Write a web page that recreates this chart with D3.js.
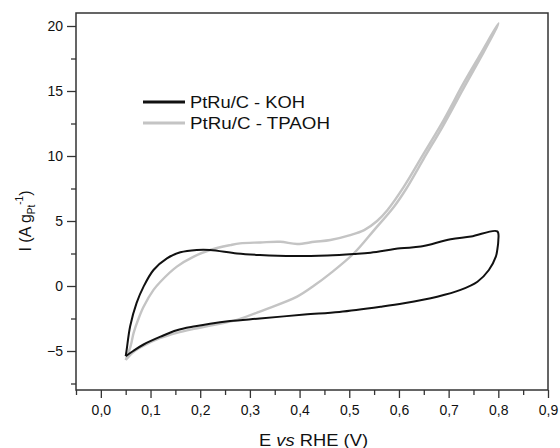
<!DOCTYPE html>
<html>
<head>
<meta charset="utf-8">
<script src="https://cdn.jsdelivr.net/npm/d3@7"></script>
<style>
  body { margin: 0; background: #fff; }
  text { font-family: "Liberation Sans", Arial, sans-serif; fill: #111; }
</style>
</head>
<body>
<div id="chart"></div>
<script>
var width = 560;
var height = 448;

// PtRu/C - KOH, one full cycle (forward then back)
var kohE = [0.05, 0.052, 0.059, 0.072, 0.086, 0.106, 0.133, 0.16, 0.193, 0.22, 0.274, 0.32, 0.388, 0.456, 0.509, 0.543, 0.603, 0.644, 0.704, 0.745, 0.798,
            0.80, 0.798, 0.795, 0.781, 0.758, 0.724, 0.677, 0.61, 0.563, 0.48, 0.41, 0.32, 0.26, 0.22, 0.19, 0.153, 0.12, 0.086, 0.065, 0.05];
var kohI = [-5.4, -4.9, -3.1, -1.3, -0.05, 1.23, 2.13, 2.59, 2.77, 2.77, 2.5, 2.38, 2.3, 2.35, 2.46, 2.56, 2.9, 3.03, 3.6, 3.8, 4.2,
            3.5, 2.8, 2.26, 1.23, 0.33, -0.3, -0.82, -1.33, -1.6, -2.0, -2.2, -2.5, -2.7, -2.9, -3.1, -3.4, -3.9, -4.5, -5.0, -5.4];

// PtRu/C - TPAOH
var tpaE = [0.05, 0.06, 0.066, 0.075, 0.086, 0.106, 0.12, 0.153, 0.187, 0.22, 0.261, 0.28, 0.321, 0.361, 0.395, 0.43, 0.462, 0.50, 0.53, 0.556, 0.577, 0.61, 0.65, 0.69, 0.73, 0.765, 0.80,
            0.797, 0.765, 0.73, 0.69, 0.65, 0.615, 0.59, 0.55, 0.509, 0.462, 0.43, 0.395, 0.328, 0.274, 0.22, 0.187, 0.153, 0.12, 0.086, 0.065, 0.05];
var tpaI = [-5.7, -4.6, -3.6, -2.6, -1.6, -0.3, 0.33, 1.49, 2.26, 2.77, 3.15, 3.28, 3.35, 3.4, 3.23, 3.4, 3.54, 3.9, 4.3, 5.0, 5.85, 7.64, 10.2, 12.77, 15.6, 17.9, 20.2,
            19.9, 17.6, 15.2, 12.4, 9.8, 7.5, 6.1, 4.3, 2.5, 0.97, 0.05, -0.82, -1.85, -2.6, -3.05, -3.3, -3.6, -4.0, -4.6, -5.1, -5.7];

var xMajor = [0, 0.1, 0.2, 0.3, 0.4, 0.5, 0.6, 0.7, 0.8, 0.9];
var xMinor = [-0.05, 0.05, 0.15, 0.25, 0.35, 0.45, 0.55, 0.65, 0.75, 0.85];
var yMajor = [-5, 0, 5, 10, 15, 20];
var yMinor = [-7.5, -2.5, 2.5, 7.5, 12.5, 17.5];

var seriesNames = ["PtRu/C - KOH", "PtRu/C - TPAOH"];
var seriesColors = ["#111111", "#c4c4c4"];

var svg = d3.select("#chart").append("svg")
    .attr("width", width)
    .attr("height", height);

var x = d3.scaleLinear().domain([-0.05, 0.9]).range([76, 548]);
var y = d3.scaleLinear().domain([-8, 21]).range([390, 13]);

var fmt = function (d) { return d3.format(".1f")(d).replace(".", ","); };

// axes
svg.append("g").attr("transform", "translate(0,390)")
    .call(d3.axisBottom(x).tickValues(xMajor).tickSize(8).tickSizeOuter(0).tickPadding(7).tickFormat(fmt));
svg.append("g").attr("transform", "translate(0,390)")
    .call(d3.axisBottom(x).tickValues(xMinor).tickSize(5).tickSizeOuter(0).tickFormat(""));
svg.append("g").attr("transform", "translate(76,0)")
    .call(d3.axisLeft(y).tickValues(yMajor).tickSize(9).tickSizeOuter(0).tickPadding(4));
svg.append("g").attr("transform", "translate(76,0)")
    .call(d3.axisLeft(y).tickValues(yMinor).tickSize(5).tickSizeOuter(0).tickFormat(""));

svg.selectAll(".domain").remove();
svg.selectAll(".tick line").attr("stroke", "#333").attr("stroke-width", 1.3);
svg.selectAll(".tick text").style("font-size", "14px").style("font-family", "Liberation Sans, Arial, sans-serif").attr("fill", "#111");

// frame
svg.append("rect")
    .attr("x", x(-0.05)).attr("y", y(21))
    .attr("width", x(0.9) - x(-0.05)).attr("height", y(-8) - y(21))
    .attr("fill", "none").attr("stroke", "#333").attr("stroke-width", 1.5);

// curves
var line = d3.line()
    .x(function (d) { return x(d[0]); })
    .y(function (d) { return y(d[1]); })
    .curve(d3.curveCatmullRom.alpha(0.5));

var tpa = tpaE.map(function (e, i) { return [e, tpaI[i]]; });
var koh = kohE.map(function (e, i) { return [e, kohI[i]]; });

svg.append("path").datum(tpa).attr("d", line)
    .attr("fill", "none").attr("stroke", seriesColors[1]).attr("stroke-width", 2.4);
svg.append("path").datum(koh).attr("d", line)
    .attr("fill", "none").attr("stroke", seriesColors[0]).attr("stroke-width", 2);

// legend
var legend = svg.append("g");
var legendWidths = [115, 140];
seriesNames.forEach(function (name, i) {
  var ly = 102 + i * 21;
  legend.append("line").attr("x1", 143).attr("x2", 185).attr("y1", ly).attr("y2", ly)
      .attr("stroke", seriesColors[i]).attr("stroke-width", 3);
  legend.append("text").attr("x", 190).attr("y", ly + 6)
      .attr("textLength", legendWidths[i]).attr("lengthAdjust", "spacingAndGlyphs")
      .style("font-size", "16px").text(name);
});

// axis titles
var xt = svg.append("text").attr("x", 259).attr("y", 446)
    .attr("textLength", 109).attr("lengthAdjust", "spacingAndGlyphs")
    .style("font-size", "16px");
xt.append("tspan").text("E ");
xt.append("tspan").style("font-style", "italic").text("vs");
xt.append("tspan").text(" RHE (V)");

var yt = svg.append("text")
    .attr("transform", "translate(31,221) rotate(-90)")
    .attr("text-anchor", "middle").style("font-size", "16px");
yt.append("tspan").text("I (A g");
yt.append("tspan").attr("dy", 4).style("font-size", "10px").text("Pt");
yt.append("tspan").attr("dy", -12).style("font-size", "10px").text("-1");
yt.append("tspan").attr("dy", 8).text(")");
</script>
</body>
</html>
